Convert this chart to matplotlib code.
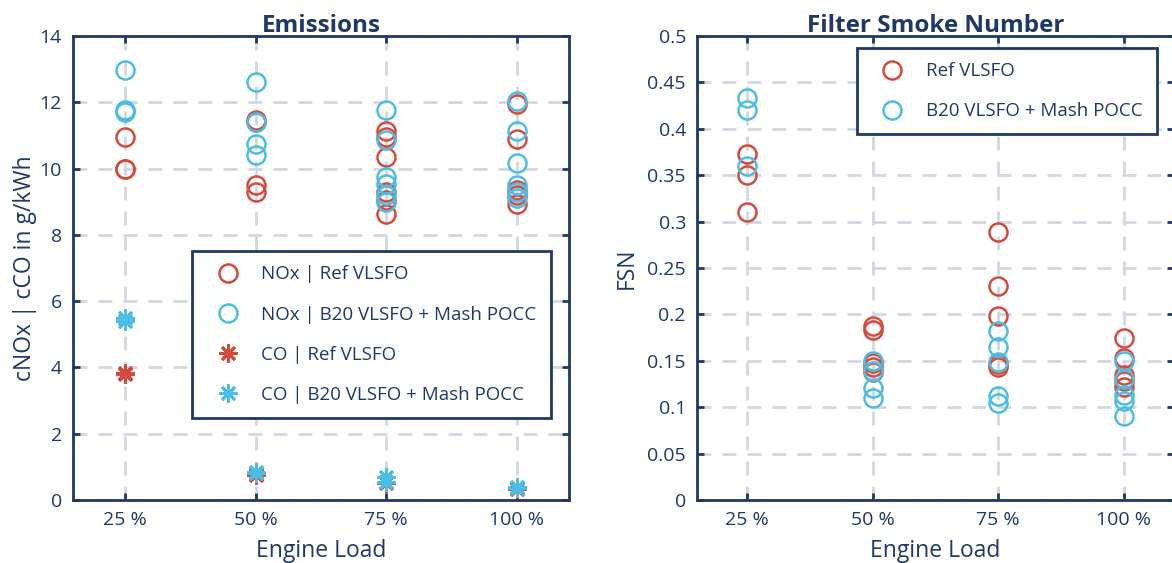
"""
    Emissions and filter smoke number for Ref VLSFO vs B20 VLSFO + Mash POCC
"""

import matplotlib.pyplot as plt

NAVY = "#1f3868"
RED = "#d44a3c"
CYAN = "#4cbde4"
GRID = "#d3d7e0"

plt.rcParams["font.family"] = ["Open Sans", "DejaVu Sans"]

loads = ["25 %", "50 %", "75 %", "100 %"]

# cNOx in g/kWh, one list per engine load
nox_ref = [[10.95, 10.0, 9.98],
           [11.47, 11.4, 9.49, 9.29],
           [11.14, 10.95, 10.36, 9.29, 9.04, 8.64],
           [11.95, 10.89, 9.35, 9.19, 8.94]]
nox_b20 = [[12.97, 11.77, 11.72],
           [12.6, 11.4, 10.74, 10.42],
           [11.77, 10.87, 9.74, 9.54, 9.2, 9.0],
           [12.05, 11.14, 10.16, 9.49, 9.29, 9.1]]

# cCO in g/kWh
co_ref = [[3.8, 3.82], [0.75, 0.78], [0.5, 0.55], [0.33, 0.36]]
co_b20 = [[5.4, 5.5], [0.8, 0.85], [0.55, 0.7], [0.35, 0.38]]

# filter smoke number
fsn_ref = [[0.373, 0.35, 0.31],
           [0.188, 0.183, 0.148, 0.143, 0.138],
           [0.289, 0.231, 0.198, 0.147, 0.143],
           [0.175, 0.153, 0.135, 0.128, 0.122]]
fsn_b20 = [[0.433, 0.42, 0.36],
           [0.15, 0.139, 0.121, 0.11],
           [0.182, 0.165, 0.149, 0.112, 0.104],
           [0.15, 0.13, 0.113, 0.107, 0.091]]

ASTERISK = (8, 2, 0)


def flatten(groups):
    xs, ys = [], []
    for i, vals in enumerate(groups):
        xs += [i + 1] * len(vals)
        ys += vals
    return xs, ys


def style_axes(ax, title, ylabel, ypad):
    ax.set_xlim(0.6, 4.4)
    ax.set_xticks(range(1, len(loads) + 1))
    ax.set_xticklabels(loads)
    ax.grid(True, color=GRID, linestyle=(0, (5, 4)), linewidth=2)
    ax.set_axisbelow(True)
    for spine in ax.spines.values():
        spine.set_color(NAVY)
        spine.set_linewidth(2)
    ax.tick_params(direction="in", length=5, width=2, color=NAVY, labelcolor=NAVY,
                   labelsize=14, top=True, right=True, pad=8)
    ax.set_title(title, color=NAVY, fontsize=17.5, fontweight="bold", pad=3)
    ax.set_xlabel("Engine Load", color=NAVY, fontsize=16.5, labelpad=7)
    ax.set_ylabel(ylabel, color=NAVY, fontsize=16.5, labelpad=ypad)


def circles(ax, groups, color, label):
    xs, ys = flatten(groups)
    ax.plot(xs, ys, linestyle="none", marker="o", markersize=13, markerfacecolor="none",
            markeredgecolor=color, markeredgewidth=1.8, label=label)


def stars(ax, groups, color, label):
    xs, ys = flatten(groups)
    ax.plot(xs, ys, linestyle="none", marker=ASTERISK, markersize=13,
            markeredgecolor=color, markeredgewidth=2.0, label=label)


def legend(ax, loc, anchor):
    leg = ax.legend(loc=loc, bbox_to_anchor=anchor, fontsize=13.5, fancybox=False,
                    framealpha=1, edgecolor=NAVY, labelspacing=1.18, handletextpad=0.65,
                    borderpad=0.75, handlelength=2.3, borderaxespad=0)
    leg.get_frame().set_linewidth(2)
    for text in leg.get_texts():
        text.set_color(NAVY)


fig = plt.figure(figsize=(11.72, 5.63), dpi=100)

ax1 = fig.add_axes([73 / 1172, 63 / 563, 496 / 1172, 464 / 563])
circles(ax1, nox_ref, RED, "NOx | Ref VLSFO")
circles(ax1, nox_b20, CYAN, "NOx | B20 VLSFO + Mash POCC")
stars(ax1, co_ref, RED, "CO | Ref VLSFO")
stars(ax1, co_b20, CYAN, "CO | B20 VLSFO + Mash POCC")
ax1.set_ylim(0, 14)
ax1.set_yticks(range(0, 15, 2))
style_axes(ax1, "Emissions", "cNOx | cCO in g/kWh", 2)
legend(ax1, "lower left", (0.24, 0.177))

ax2 = fig.add_axes([697 / 1172, 63 / 563, 477 / 1172, 464 / 563])
circles(ax2, fsn_ref, RED, "Ref VLSFO")
circles(ax2, fsn_b20, CYAN, "B20 VLSFO + Mash POCC")
ax2.set_ylim(0, 0.5)
ax2.set_yticks([i * 0.05 for i in range(11)])
ax2.set_yticklabels(["0", "0.05", "0.1", "0.15", "0.2", "0.25", "0.3", "0.35", "0.4",
                     "0.45", "0.5"])
style_axes(ax2, "Filter Smoke Number", "FSN", 6)
legend(ax2, "upper right", (0.964, 0.974))

fig.savefig("out.png", dpi=100)
